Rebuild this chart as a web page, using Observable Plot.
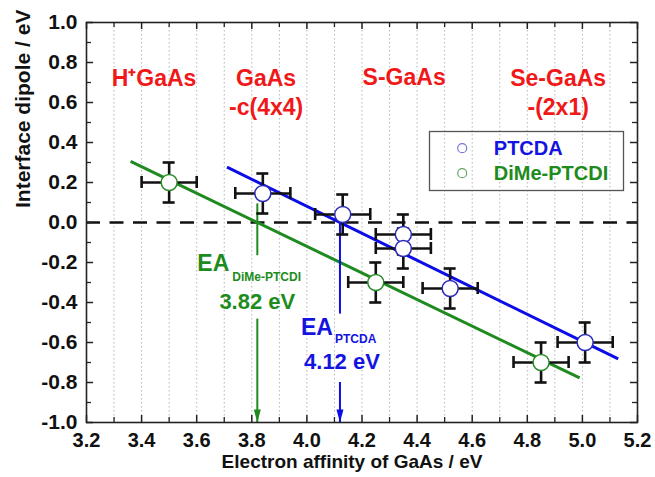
<!DOCTYPE html>
<html>
<head>
<meta charset="utf-8">
<script src="https://cdn.jsdelivr.net/npm/d3@7"></script>
<script src="https://cdn.jsdelivr.net/npm/@observablehq/plot@0.6"></script>
<style>
  body { margin: 0; background: #fff; }
  #chart svg { display: block; }
</style>
</head>
<body>
<div id="chart"></div>
<script>
// Interface dipole measured for each GaAs surface (electron affinity in eV)
const ptcdaEA     = [3.84, 4.13, 4.35, 4.35, 4.52, 5.01];
const ptcdaDipole = [0.145, 0.04, -0.06, -0.13, -0.33, -0.60];
const dimeEA      = [3.50, 4.25, 4.85];
const dimeDipole  = [0.20, -0.30, -0.70];
const eaError = 0.1;
const dipoleError = 0.1;

// Linear fits; the zero crossing is the molecule's electron affinity
const seriesNames = ["PTCDA", "DiMe-PTCDI"];
const fitZero  = [4.12, 3.82];
const fitSlope = [-0.675, -0.664];
const fitFrom  = [3.71, 3.36];
const fitTo    = [5.13, 4.99];

// Surface preparations labelled across the top
const surfaceNames = ["H\u207AGaAs", "GaAs\n-c(4x4)", "S-GaAs", "Se-GaAs\n-(2x1)"];

const xTicks = [3.2, 3.4, 3.6, 3.8, 4.0, 4.2, 4.4, 4.6, 4.8, 5.0, 5.2];
const yTicks = [-1.0, -0.8, -0.6, -0.4, -0.2, 0.0, 0.2, 0.4, 0.6, 0.8, 1.0];

// ---- tables built from the arrays above ----
const colors = {"PTCDA": "#0c0ce6", "DiMe-PTCDI": "#1f8a1f"};
const textColors = {"PTCDA": "#1414e0", "DiMe-PTCDI": "#1d8c1d"};
const dotStroke = {"PTCDA": "#2a2ab8", "DiMe-PTCDI": "#2a8a2a"};

const points = [
  ...ptcdaEA.map((x, i) => ({series: "PTCDA", x, y: ptcdaDipole[i]})),
  ...dimeEA.map((x, i) => ({series: "DiMe-PTCDI", x, y: dimeDipole[i]}))
];

const fits = seriesNames.map((name, i) => ({
  name,
  zero: fitZero[i],
  x1: fitFrom[i], y1: fitSlope[i] * (fitFrom[i] - fitZero[i]),
  x2: fitTo[i],   y2: fitSlope[i] * (fitTo[i] - fitZero[i])
}));

// Vertical markers at the zero crossings, interrupted by their labels
const markerSpans = [
  {name: "PTCDA", top: 0.04, bottom: -0.458},
  {name: "PTCDA", top: -0.80, bottom: -1.0},
  {name: "DiMe-PTCDI", top: 0.093, bottom: -0.166},
  {name: "DiMe-PTCDI", top: -0.483, bottom: -1.0}
].map(d => ({...d, x: fitZero[seriesNames.indexOf(d.name)]}));

// Label placement (data units) for the surface names
const surfaceAnchors = [[3.445, 0.787], [3.852, 0.787], [4.353, 0.792], [4.912, 0.783]];
const surfaces = surfaceNames.map((text, i) => ({text, x: surfaceAnchors[i][0], y: surfaceAnchors[i][1]}));

// Error-bar caps
const xCaps = points.flatMap(d => [{x: d.x - eaError, y: d.y}, {x: d.x + eaError, y: d.y}]);
const yCaps = points.flatMap(d => [{x: d.x, y: d.y - dipoleError}, {x: d.x, y: d.y + dipoleError}]);

const gridX = d3.range(33, 52).map(i => i / 10);
const minorX = gridX.filter(v => Math.round(v * 10) % 2 === 1);
const minorY = d3.range(-9, 10, 2).map(i => i / 10);

const W = 655, H = 477;
const M = {top: 22, right: 18, bottom: 55, left: 86};
const plotW = W - M.left - M.right;
const plotH = H - M.top - M.bottom;
const axisInk = "#222";

const arrowHead = {
  draw(ctx) { ctx.moveTo(0, 0); ctx.lineTo(-3.5, -13); ctx.lineTo(3.5, -13); ctx.closePath(); }
};

const eaLabel = fits.map(f => f.name);
const eaText = {
  "DiMe-PTCDI": {ea: {dx: -60, y: -0.207}, sub: {dx: -25, y: -0.272}, val: {dx: 0, y: -0.399}},
  "PTCDA":      {ea: {dx: -39, y: -0.525}, sub: {dx: -5,  y: -0.583}, val: {dx: 2,  y: -0.699}}
};

const marks = [
  // dotted vertical grid
  Plot.ruleX(gridX, {stroke: "#b4b4b4", strokeWidth: 1, strokeDasharray: "1.5,2.5"}),
  // zero reference
  Plot.ruleY([0], {stroke: "#111", strokeWidth: 2.6, strokeDasharray: "14,9.5"}),
  // fit lines
  Plot.link(fits, {x1: "x1", y1: "y1", x2: "x2", y2: "y2", stroke: d => colors[d.name], strokeWidth: 3}),
  // zero-crossing markers and arrowheads
  Plot.ruleX(markerSpans, {x: "x", y1: "top", y2: "bottom", stroke: d => colors[d.name], strokeWidth: 2}),
  Plot.dot(fits, {x: "zero", y: () => -1, symbol: arrowHead, r: 3, fill: d => colors[d.name], stroke: "none"}),
  // error bars
  Plot.ruleY(points, {y: "y", x1: d => d.x - eaError, x2: d => d.x + eaError, stroke: "#111", strokeWidth: 2.6}),
  Plot.ruleX(points, {x: "x", y1: d => d.y - dipoleError, y2: d => d.y + dipoleError, stroke: "#111", strokeWidth: 2.6}),
  Plot.ruleX(xCaps, {x: "x", y1: "y", y2: "y", insetTop: -6, insetBottom: -6, stroke: "#111", strokeWidth: 2.6}),
  Plot.ruleY(yCaps, {y: "y", x1: "x", x2: "x", insetLeft: -6, insetRight: -6, stroke: "#111", strokeWidth: 2.6}),
  // data points
  Plot.dot(points, {x: "x", y: "y", r: 8, fill: "white", stroke: d => dotStroke[d.series], strokeWidth: 1.5}),
  // surface names
  Plot.text(surfaces, {x: "x", y: "y", text: "text", fill: "#f01818", fontSize: 23, fontWeight: "bold",
    lineAnchor: "top", lineHeight: 1.26}),
  // zero-crossing labels
  ...eaLabel.flatMap(name => {
    const f = fits.find(d => d.name === name);
    const p = eaText[name];
    const c = textColors[name];
    return [
      Plot.text([f], {x: "zero", y: () => p.ea.y, text: () => "EA", dx: p.ea.dx, textAnchor: "start",
        fill: c, fontSize: 23, fontWeight: "bold"}),
      Plot.text([f], {x: "zero", y: () => p.sub.y, text: () => name, dx: p.sub.dx, textAnchor: "start",
        fill: c, fontSize: 12, fontWeight: "bold", ariaLabel: "subscript"}),
      Plot.text([f], {x: "zero", y: () => p.val.y, text: d => `${d.zero.toFixed(2)} eV`, dx: p.val.dx,
        fill: c, fontSize: 22, fontWeight: "bold", ariaLabel: "ea-value"})
    ];
  }),
  // legend
  Plot.frame({insetLeft: 343, insetRight: 14, insetTop: 109, insetBottom: 232, stroke: "#555", strokeWidth: 1.3}),
  ...seriesNames.flatMap((name, i) => [
    Plot.dot([name], {frameAnchor: "top-left", dx: 375.7, dy: 125.7 + i * 25, r: 4.5, fill: "none",
      stroke: name === "PTCDA" ? "#7676d8" : "#62a862", strokeWidth: 1.2}),
    Plot.text([name], {frameAnchor: "top-left", lineAnchor: "middle", dx: 407.3, dy: 125.7 + i * 25,
      text: d => d, textAnchor: "start", fill: textColors[name], fontSize: 20, fontWeight: "bold"})
  ]),
  // frame and inward ticks on all four sides
  Plot.frame({stroke: axisInk, strokeWidth: 1.6}),
  Plot.ruleX(xTicks, {insetTop: plotH - 7, stroke: axisInk, strokeWidth: 1.5}),
  Plot.ruleX(xTicks, {insetBottom: plotH - 7, stroke: axisInk, strokeWidth: 1.5}),
  Plot.ruleX(minorX, {insetTop: plotH - 5, stroke: axisInk, strokeWidth: 1.3}),
  Plot.ruleX(minorX, {insetBottom: plotH - 5, stroke: axisInk, strokeWidth: 1.3}),
  Plot.ruleY(yTicks, {insetRight: plotW - 7, stroke: axisInk, strokeWidth: 1.5}),
  Plot.ruleY(yTicks, {insetLeft: plotW - 7, stroke: axisInk, strokeWidth: 1.5}),
  Plot.ruleY(minorY, {insetRight: plotW - 5, stroke: axisInk, strokeWidth: 1.3}),
  Plot.ruleY(minorY, {insetLeft: plotW - 5, stroke: axisInk, strokeWidth: 1.3}),
  // tick labels
  Plot.axisX({ticks: xTicks, tickSize: 0, tickPadding: 10, tickFormat: d => d.toFixed(1),
    fontSize: 20, fontWeight: "bold", label: null, fill: "#111"}),
  Plot.axisY({ticks: yTicks, tickSize: 0, tickPadding: 9, tickFormat: d => d.toFixed(1),
    fontSize: 21, fontWeight: "bold", label: null, fill: "#111"}),
  // axis titles
  Plot.text(["Electron affinity of GaAs / eV"], {frameAnchor: "bottom", lineAnchor: "middle", text: d => d,
    dx: -10, dy: 39, fontSize: 19, fontWeight: "bold", fill: "#111"}),
  Plot.text(["Interface dipole / eV"], {frameAnchor: "left", lineAnchor: "middle", text: d => d, rotate: -90,
    dx: -63.4, dy: -14.5, fontSize: 21, fontWeight: "bold", fill: "#111"})
];

const chart = Plot.plot({
  width: W,
  height: H,
  marginTop: M.top,
  marginRight: M.right,
  marginBottom: M.bottom,
  marginLeft: M.left,
  x: {domain: [3.2, 5.2]},
  y: {domain: [-1, 1]},
  style: {fontFamily: "'Liberation Sans', Arial, sans-serif", fontWeight: "bold", color: "#111",
    background: "white", overflow: "visible"},
  marks
});

// Spread the small subscript lettering a little
d3.select(chart).selectAll('g[aria-label="subscript"] text').style("letter-spacing", "1.5px");
d3.select(chart).selectAll('g[aria-label="ea-value"] text').style("letter-spacing", "0.8px");

document.getElementById("chart").appendChild(chart);
</script>
</body>
</html>
